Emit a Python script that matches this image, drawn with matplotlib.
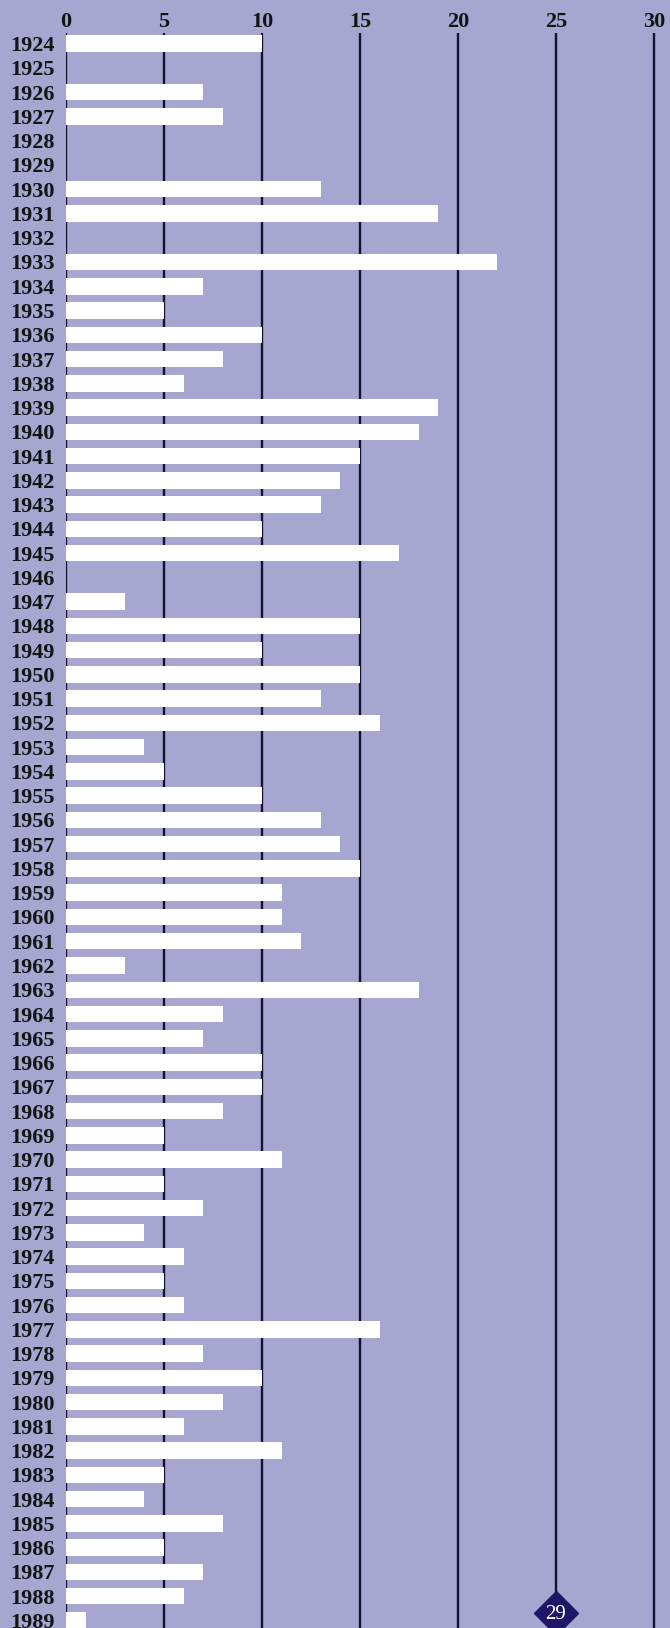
import matplotlib
matplotlib.use("Agg")
import matplotlib.pyplot as plt
import numpy as np

years = list(range(1924, 1990))
values = [10, 0, 7, 8, 0, 0, 13, 19, 0, 22,
          7, 5, 10, 8, 6, 19, 18, 15, 14, 13,
          10, 17, 0, 3, 15, 10, 15, 13, 16, 4,
          5, 10, 13, 14, 15, 11, 11, 12, 3, 18,
          8, 7, 10, 10, 8, 5, 11, 5, 7, 4,
          6, 5, 6, 16, 7, 10, 8, 6, 11, 5,
          4, 8, 5, 7, 6, 1]
xticks = [0, 5, 10, 15, 20, 25, 30]
badge_x = 25
badge_label = "29"

BG = "#a6a6d0"
LINE = "#121230"

fig = plt.figure(figsize=(6.7, 16.28), dpi=100)
fig.patch.set_facecolor(BG)
ax = fig.add_axes([66 / 670, 0, 604 / 670, 1])
ax.set_facecolor(BG)

n = len(years)
ypos = np.arange(n)
ax.set_xlim(0, 604 / 19.6)
ax.set_ylim(65.31, -1.80)

# grid lines
grid_top = -0.45
badge_y = 64.7
for t in xticks:
    bottom = badge_y if t == badge_x else 65.31
    ax.vlines(t, grid_top, bottom, color=LINE, lw=1.7, zorder=1)

ax.barh(ypos, values, height=0.68, color="white", zorder=2)

# badge
ax.plot([badge_x], [badge_y], marker="D", markersize=22, color="#1f1668",
        zorder=4, clip_on=False)
ax.text(badge_x, badge_y + 0.05, badge_label, color="white", ha="center",
        va="center", fontsize=15, family="Liberation Serif", zorder=5)

ax.set_yticks(ypos)
ax.set_yticklabels([str(y) for y in years], family="Liberation Serif",
                   fontweight="bold", fontsize=16, color="#141414")
ax.tick_params(axis="y", length=0, pad=8)

ax.xaxis.set_ticks_position("top")
ax.set_xticks(xticks)
ax.set_xticklabels([str(t) for t in xticks], family="Liberation Serif",
                   fontweight="bold", fontsize=16, color="#141414")
ax.tick_params(axis="x", length=0, pad=-23)

for s in ax.spines.values():
    s.set_visible(False)

fig.savefig("out.png", dpi=100, facecolor=BG)
